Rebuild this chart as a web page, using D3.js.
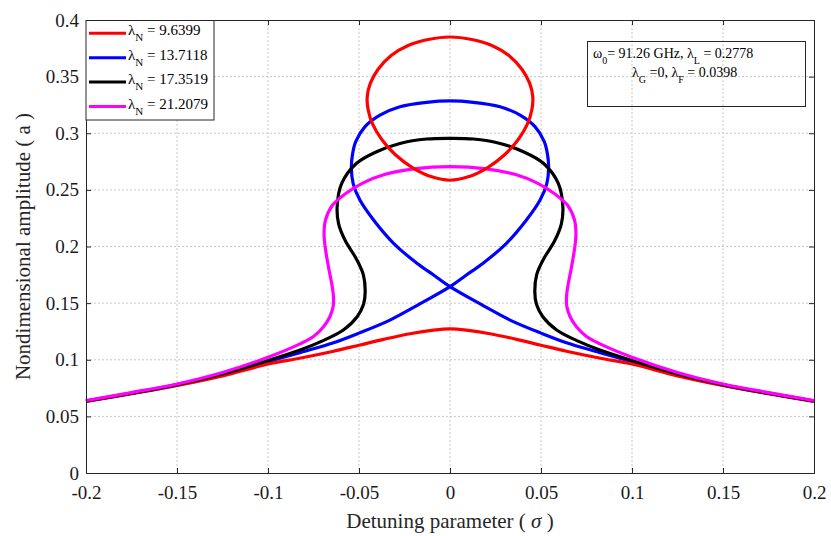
<!DOCTYPE html>
<html>
<head>
<meta charset="utf-8">
<script src="https://cdn.jsdelivr.net/npm/d3@7"></script>
<style>
	body { margin: 0; background: #fff; }
	svg { display: block; font-family: 'Liberation Serif', 'Times New Roman', serif; }
	svg text { font-family: 'Liberation Serif', 'Times New Roman', serif !important; }
</style>
</head>
<body>
<svg id="chart"></svg>
<script>
// tick labels
const xTicks = [-0.2, -0.15, -0.1, -0.05, 0, 0.05, 0.1, 0.15, 0.2];
const xTickLabels = ['-0.2', '-0.15', '-0.1', '-0.05', '0', '0.05', '0.1', '0.15', '0.2'];
const yTicks = [0, 0.05, 0.1, 0.15, 0.2, 0.25, 0.3, 0.35, 0.4];
const yTickLabels = ['0', '0.05', '0.1', '0.15', '0.2', '0.25', '0.3', '0.35', '0.4'];

// legend
const lambdaN = ['9.6399', '13.7118', '17.3519', '21.2079'];
const colors = ['#ff0000', '#0000ff', '#000000', '#ff00ff'];

// curves, [sigma, a]
const redLower = [
	[-0.2, 0.0632], [-0.175, 0.0700], [-0.15, 0.0773], [-0.125, 0.0858], [-0.1, 0.0962],
	[-0.082, 0.1015], [-0.064, 0.1075], [-0.05, 0.1128], [-0.036, 0.1182], [-0.022, 0.1230],
	[-0.009, 0.1262], [0, 0.1273], [0.009, 0.1262], [0.022, 0.1230], [0.036, 0.1182],
	[0.05, 0.1128], [0.064, 0.1075], [0.082, 0.1015], [0.1, 0.0962], [0.125, 0.0858],
	[0.15, 0.0773], [0.175, 0.0700], [0.2, 0.0632]
];
const redLoop = [
	[0, 0.3850], [0.0120, 0.3828], [0.0230, 0.3775], [0.0325, 0.3685], [0.0395, 0.3565],
	[0.0438, 0.3440], [0.0455, 0.3320], [0.0450, 0.3210], [0.0425, 0.3080], [0.0375, 0.2945],
	[0.0300, 0.2810], [0.0205, 0.2695], [0.0100, 0.2615], [0, 0.2585], [-0.0100, 0.2615],
	[-0.0205, 0.2695], [-0.0300, 0.2810], [-0.0375, 0.2945], [-0.0425, 0.3080], [-0.0450, 0.3210],
	[-0.0455, 0.3320], [-0.0438, 0.3440], [-0.0395, 0.3565], [-0.0325, 0.3685], [-0.0230, 0.3775],
	[-0.0120, 0.3828]
];
const blueCurve = [
	[-0.2, 0.0634], [-0.175, 0.0702], [-0.15, 0.0776], [-0.125, 0.0866], [-0.1, 0.0982],
	[-0.082, 0.1065], [-0.064, 0.1150], [-0.05, 0.1235], [-0.033, 0.1350], [-0.018, 0.1480],
	[0, 0.1645], [0.009, 0.1748], [0.018, 0.1850], [0.031, 0.2028], [0.042, 0.2234],
	[0.0495, 0.2410], [0.0532, 0.2555], [0.0542, 0.2700], [0.0535, 0.2820], [0.0518, 0.2926],
	[0.0467, 0.3058], [0.0385, 0.3160], [0.0275, 0.3234], [0.0128, 0.3273], [0, 0.3285],
	[-0.0128, 0.3273], [-0.0275, 0.3234], [-0.0385, 0.3160], [-0.0467, 0.3058], [-0.0518, 0.2926],
	[-0.0535, 0.2820], [-0.0542, 0.2700], [-0.0532, 0.2555], [-0.0495, 0.2410], [-0.042, 0.2234],
	[-0.031, 0.2028], [-0.018, 0.1850], [-0.009, 0.1748], [0, 0.1645], [0.018, 0.1480],
	[0.033, 0.1350], [0.05, 0.1235], [0.064, 0.1150], [0.082, 0.1065], [0.1, 0.0982],
	[0.125, 0.0866], [0.15, 0.0776], [0.175, 0.0702], [0.2, 0.0634]
];
const blackCurve = [
	[-0.2, 0.0636], [-0.175, 0.0705], [-0.15, 0.0780], [-0.125, 0.0875], [-0.1, 0.0993],
	[-0.082, 0.1088], [-0.071, 0.1160], [-0.0586, 0.1263], [-0.0510, 0.1380], [-0.0475, 0.1490],
	[-0.0466, 0.1600], [-0.0476, 0.1750], [-0.0518, 0.1900], [-0.0575, 0.2050], [-0.0612, 0.2200],
	[-0.0620, 0.2352], [-0.0595, 0.2558], [-0.0513, 0.2735], [-0.0403, 0.2837], [-0.0275, 0.2910],
	[-0.0128, 0.2949], [0, 0.2955], [0.0128, 0.2949], [0.0275, 0.2910], [0.0403, 0.2837],
	[0.0513, 0.2735], [0.0595, 0.2558], [0.0620, 0.2352], [0.0612, 0.2200], [0.0575, 0.2050],
	[0.0518, 0.1900], [0.0476, 0.1750], [0.0466, 0.1600], [0.0475, 0.1490], [0.0510, 0.1380],
	[0.0586, 0.1263], [0.071, 0.1160], [0.082, 0.1088], [0.1, 0.0993], [0.125, 0.0875],
	[0.15, 0.0780], [0.175, 0.0705], [0.2, 0.0636]
];
const magentaCurve = [
	[-0.2, 0.0640], [-0.175, 0.0710], [-0.15, 0.0786], [-0.125, 0.0888], [-0.1, 0.1022],
	[-0.0824, 0.1140], [-0.075, 0.1205], [-0.0695, 0.1292], [-0.0660, 0.1380], [-0.0642, 0.1470],
	[-0.0640, 0.1550], [-0.0647, 0.1645], [-0.0668, 0.1822], [-0.0686, 0.1998], [-0.0692, 0.2117],
	[-0.0684, 0.2234], [-0.0645, 0.2366], [-0.0575, 0.2465], [-0.0480, 0.2560], [-0.0360, 0.2635],
	[-0.0200, 0.2685], [0, 0.2705], [0.0200, 0.2685], [0.0360, 0.2635], [0.0480, 0.2560],
	[0.0575, 0.2465], [0.0645, 0.2366], [0.0684, 0.2234], [0.0692, 0.2117], [0.0686, 0.1998],
	[0.0668, 0.1822], [0.0647, 0.1645], [0.0640, 0.1550], [0.0642, 0.1470], [0.0660, 0.1380],
	[0.0695, 0.1292], [0.075, 0.1205], [0.0824, 0.1140], [0.1, 0.1022], [0.125, 0.0888],
	[0.15, 0.0786], [0.175, 0.0710], [0.2, 0.0640]
];

const svgWidth = 831, svgHeight = 536;
const margin = { top: 20, right: 17, bottom: 63, left: 86 };
const width = svgWidth - margin.left - margin.right;
const height = svgHeight - margin.top - margin.bottom;

const svg = d3.select('#chart').attr('width', svgWidth).attr('height', svgHeight);
const g = svg.append('g').attr('transform', 'translate(' + margin.left + ',' + margin.top + ')');

const x = d3.scaleLinear().domain([-0.2, 0.2]).range([0, width]);
const y = d3.scaleLinear().domain([0, 0.4]).range([height, 0]);

// grid
const grid = g.append('g').attr('stroke', '#c8c8c8').attr('stroke-width', 1).attr('stroke-dasharray', '2,2');
grid.selectAll('.gx').data(xTicks.slice(1, -1)).enter().append('line')
	.attr('x1', (d) => x(d)).attr('x2', (d) => x(d)).attr('y1', 0).attr('y2', height);
grid.selectAll('.gy').data(yTicks.slice(1, -1)).enter().append('line')
	.attr('y1', (d) => y(d)).attr('y2', (d) => y(d)).attr('x1', 0).attr('x2', width);

// curves
const line = d3.line().x((d) => x(d[0])).y((d) => y(d[1])).curve(d3.curveCatmullRom.alpha(0.5));
const loop = d3.line().x((d) => x(d[0])).y((d) => y(d[1])).curve(d3.curveCatmullRomClosed.alpha(0.5));
const curves = [
	{ data: blueCurve, color: colors[1], gen: line },
	{ data: redLower, color: colors[0], gen: line },
	{ data: blackCurve, color: colors[2], gen: line },
	{ data: magentaCurve, color: colors[3], gen: line },
	{ data: redLoop, color: colors[0], gen: loop }
];
curves.forEach((c) => {
	g.append('path')
		.datum(c.data)
		.attr('fill', 'none')
		.attr('stroke', c.color)
		.attr('stroke-width', 3.2)
		.attr('stroke-linejoin', 'round')
		.attr('d', c.gen);
});

// axes
const serif = "'Liberation Serif', 'Times New Roman', serif";
const tickFont = (sel) => sel.attr('font-family', serif).selectAll('text')
	.attr('font-family', serif).attr('font-size', 19).attr('fill', '#1a1a1a');
g.append('g')
	.attr('transform', 'translate(0,' + height + ')')
	.call(d3.axisBottom(x).tickValues(xTicks).tickFormat((d, i) => xTickLabels[i]).tickSize(-5).tickPadding(13))
	.call(tickFont);
g.append('g')
	.call(d3.axisLeft(y).tickValues(yTicks).tickFormat((d, i) => yTickLabels[i]).tickSize(-5).tickPadding(7))
	.call(tickFont);
g.append('g').call(d3.axisTop(x).tickValues(xTicks).tickFormat('').tickSize(-5));
g.append('g').attr('transform', 'translate(' + width + ',0)')
	.call(d3.axisRight(y).tickValues(yTicks).tickFormat('').tickSize(-5));
g.selectAll('.domain, .tick line').attr('stroke', '#262626');

// axis titles
svg.append('text')
	.attr('x', margin.left + width / 2)
	.attr('y', 528)
	.attr('text-anchor', 'middle')
	.attr('font-size', 21)
	.attr('fill', '#262626')
	.html('Detuning parameter ( <tspan font-style="italic">σ</tspan> )');
svg.append('text')
	.attr('transform', 'translate(30,' + (margin.top + height / 2) + ') rotate(-90)')
	.attr('text-anchor', 'middle')
	.attr('font-size', 21)
	.attr('fill', '#262626')
	.text('Nondimensional amplitude ( a )');

// legend
const lg = g.append('g');
lg.append('rect').attr('x', 0).attr('y', 0.5).attr('width', 128).attr('height', 99.5)
	.attr('fill', '#fff').attr('stroke', '#262626').attr('stroke-width', 1);
lambdaN.forEach((v, i) => {
	const yy = 13.3 + i * 24.4;
	lg.append('line').attr('x1', 3).attr('x2', 40).attr('y1', yy).attr('y2', yy)
		.attr('stroke', colors[i]).attr('stroke-width', 3);
	lg.append('text').attr('x', 42).attr('y', yy + 2).attr('font-size', 15).attr('fill', '#000')
		.html('λ<tspan dy="6" font-size="11">N</tspan><tspan dy="-6"> = ' + v + '</tspan>');
});

// parameter box
const ann = svg.append('g');
ann.append('rect').attr('x', 587.5).attr('y', 41.5).attr('width', 218).attr('height', 65)
	.attr('fill', 'none').attr('stroke', '#262626').attr('stroke-width', 1);
ann.append('text').attr('x', 593).attr('y', 58).attr('font-size', 14).attr('fill', '#000')
	.html('ω<tspan dy="6" font-size="10">0</tspan><tspan dy="-6">= 91.26 GHz, λ</tspan><tspan dy="6" font-size="10">L</tspan><tspan dy="-6"> = 0.2778</tspan>');
ann.append('text').attr('x', 632).attr('y', 77).attr('font-size', 14).attr('fill', '#000')
	.html('λ<tspan dy="6" font-size="10">G</tspan><tspan dy="-6"> =0, λ</tspan><tspan dy="6" font-size="10">F</tspan><tspan dy="-6"> = 0.0398</tspan>');
</script>
</body>
</html>
